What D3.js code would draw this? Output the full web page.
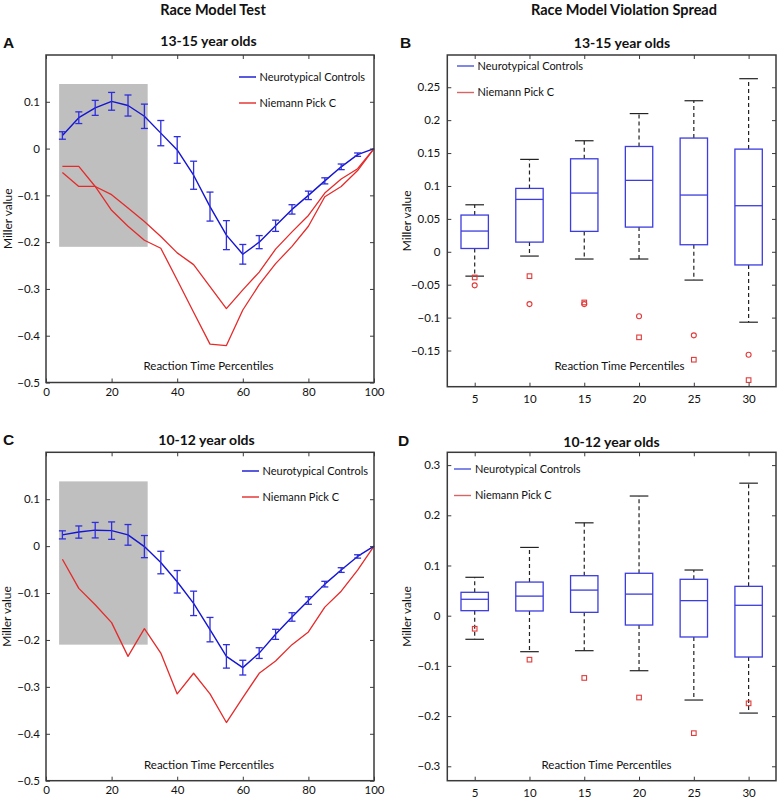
<!DOCTYPE html>
<html>
<head>
<meta charset="utf-8">
<script src="https://cdn.jsdelivr.net/npm/d3@7"></script>
<style>
  html, body { margin: 0; padding: 0; background: #fff; }
  svg { display: block; }
  text { font-family: Lato, "Noto Sans", sans-serif; fill: #111; }
</style>
</head>
<body>
<svg id="chart" width="778" height="798"></svg>
<script>
// ---------- DATA ----------
const percentiles = [5,10,15,20,25,30,35,40,45,50,55,60,65,70,75,80,85,90,95,100];

// Panel A (13-15 year olds)
const ntA_mean = [0.028,0.066,0.087,0.101,0.092,0.069,0.033,-0.003,-0.057,-0.124,-0.185,-0.226,-0.200,-0.165,-0.130,-0.100,-0.069,-0.039,-0.013,0];
const ntA_err  = [0.008,0.0125,0.016,0.019,0.0225,0.026,0.027,0.0285,0.030,0.031,0.031,0.021,0.014,0.012,0.010,0.009,0.0065,0.006,0.0036,0];
const npcA_1   = [-0.038,-0.038,-0.081,-0.132,-0.166,-0.196,-0.213,-0.281,-0.350,-0.418,-0.421,-0.345,-0.291,-0.246,-0.209,-0.166,-0.103,-0.081,-0.047,0];
const npcA_2   = [-0.051,-0.081,-0.081,-0.0985,-0.127,-0.156,-0.188,-0.223,-0.248,-0.295,-0.342,-0.302,-0.264,-0.215,-0.178,-0.143,-0.095,-0.065,-0.043,0];

// Panel C (10-12 year olds)
const ntC_mean = [0.024,0.030,0.034,0.033,0.024,-0.001,-0.035,-0.076,-0.122,-0.178,-0.235,-0.259,-0.228,-0.188,-0.151,-0.116,-0.081,-0.051,-0.022,0];
const ntC_err  = [0.0086,0.013,0.0165,0.0186,0.022,0.0236,0.024,0.024,0.026,0.026,0.025,0.0157,0.0114,0.0107,0.009,0.008,0.006,0.005,0.0036,0];
const npcC     = [-0.028,-0.090,-0.125,-0.163,-0.235,-0.176,-0.228,-0.315,-0.271,-0.315,-0.376,-0.323,-0.271,-0.245,-0.210,-0.183,-0.130,-0.096,-0.051,0];

// shaded window (percentile range, Miller value range)
const shadeX = [4, 31];
const shadeY = [-0.21, 0.138];

// Box plots
const boxCats = [5,10,15,20,25,30];
// Panel B
const bLow  = [-0.037,-0.0065,-0.011,-0.011,-0.043,-0.107];
const bQ1   = [0.005,0.0147,0.031,0.0375,0.0107,-0.020];
const bMed  = [0.0315,0.0796,0.0892,0.1085,0.0862,0.070];
const bQ3   = [0.0558,0.0963,0.1413,0.160,0.1728,0.156];
const bHigh = [0.0714,0.1404,0.1687,0.210,0.2295,0.263];
const bOutSq = [-0.039,-0.037,-0.077,-0.130,-0.164,-0.195];
const bOutCi = [-0.051,-0.0795,-0.0795,-0.098,-0.127,-0.1565];
// Panel D
const dLow  = [-0.047,-0.0717,-0.0697,-0.1096,-0.168,-0.194];
const dQ1   = [0.010,0.0094,0.0067,-0.0186,-0.0424,-0.0823];
const dMed  = [0.0327,0.039,0.051,0.043,0.030,0.0207];
const dQ3   = [0.0466,0.067,0.0797,0.0845,0.0725,0.0585];
const dHigh = [0.0765,0.136,0.185,0.2384,0.091,0.264];
const dOutSq = [-0.026,-0.0876,-0.124,-0.163,-0.234,-0.1746];

// Ticks
const lineXTicks = [0,20,40,60,80,100];
const lineYTicks = [-0.5,-0.4,-0.3,-0.2,-0.1,0,0.1];
const boxBYTicks = [-0.15,-0.1,-0.05,0,0.05,0.1,0.15,0.2,0.25];
const boxDYTicks = [-0.3,-0.2,-0.1,0,0.1,0.2,0.3];

const seriesNames = ["Neurotypical Controls", "Niemann Pick C"];

// ---------- STYLE ----------
const BLUE = "#1414d2", BLUE_EB = "#2e2edc", RED = "#e52a2a";
const BOXBLUE = "#3c3ce0", OUTRED = "#e23a3a";
const AXIS = "#3a3a3a";
const fmt = d3.format("~g");

const svg = d3.select("#chart");

// headings
svg.append("text").attr("x", 213).attr("y", 15).attr("text-anchor","middle")
  .attr("font-weight","bold").attr("font-size", 14.5).text("Race Model Test");
svg.append("text").attr("x", 624).attr("y", 15).attr("text-anchor","middle")
  .attr("font-weight","bold").attr("font-size", 14.5).text("Race Model Violation Spread");

function letter(t, x, y) {
  svg.append("text").attr("x", x).attr("y", y).attr("font-weight","bold")
    .attr("font-size", 15.5).style("font-family","'Liberation Sans', Arial, sans-serif").text(t);
}

function frameAndAxes(g, x, y, L, R, T, B, xTicks, yTicks, xPad, yPad) {
  g.append("rect").attr("x", L).attr("y", T).attr("width", R-L).attr("height", B-T)
    .attr("fill","none").attr("stroke", AXIS).attr("stroke-width", 1.5);
  const ax = g.append("g").attr("transform", `translate(0,${B})`)
    .call(d3.axisBottom(x).tickValues(xTicks).tickSize(-4).tickPadding(xPad).tickFormat(fmt));
  const axT = g.append("g").attr("transform", `translate(0,${T})`)
    .call(d3.axisTop(x).tickValues(xTicks).tickSize(-4).tickFormat(""));
  const ay = g.append("g").attr("transform", `translate(${L},0)`)
    .call(d3.axisLeft(y).tickValues(yTicks).tickSize(-4).tickPadding(yPad).tickFormat(fmt));
  const ayR = g.append("g").attr("transform", `translate(${R},0)`)
    .call(d3.axisRight(y).tickValues(yTicks).tickSize(-4).tickFormat(""));
  [ax, axT, ay, ayR].forEach(a => {
    a.select(".domain").remove();
    a.selectAll(".tick line").attr("stroke", AXIS).attr("stroke-width", 1);
    a.selectAll(".tick text").attr("font-size", 11.5).style("font-family","Lato, 'Noto Sans', sans-serif").attr("fill","#111");
  });
}

function legend(g, x1, x2, tx, y1, y2, c1, c2) {
  g.append("line").attr("x1",x1).attr("x2",x2).attr("y1",y1).attr("y2",y1).attr("stroke",c1).attr("stroke-width",1.4);
  g.append("text").attr("x",tx).attr("y",y1).attr("dy","0.35em").attr("font-size",11).text(seriesNames[0]);
  g.append("line").attr("x1",x1).attr("x2",x2).attr("y1",y2).attr("y2",y2).attr("stroke",c2).attr("stroke-width",1.4);
  g.append("text").attr("x",tx).attr("y",y2).attr("dy","0.35em").attr("font-size",11).text(seriesNames[1]);
}

function linePanel(o) {
  const g = svg.append("g");
  const x = d3.scaleLinear().domain([0,100]).range([o.L, o.R]);
  const y = d3.scaleLinear().domain([-0.5, 0.2]).range([o.B, o.T]);
  g.append("text").attr("x", o.subX).attr("y", o.subY).attr("text-anchor","middle")
    .attr("font-weight","bold").attr("font-size", 14).text(o.sub);
  g.append("rect").attr("x", x(shadeX[0])).attr("y", y(shadeY[1]))
    .attr("width", x(shadeX[1]) - x(shadeX[0])).attr("height", y(shadeY[0]) - y(shadeY[1]))
    .attr("fill", "#bfbfbf");
  const line = d3.line().x((d,i) => x(percentiles[i])).y(d => y(d));
  o.reds.forEach(r => g.append("path").attr("d", line(r)).attr("fill","none")
    .attr("stroke", RED).attr("stroke-width", 1.3).attr("stroke-linejoin","round"));
  g.append("path").attr("d", line(o.mean)).attr("fill","none")
    .attr("stroke", BLUE).attr("stroke-width", 1.4).attr("stroke-linejoin","round");
  const eb = g.append("g").attr("stroke", BLUE_EB).attr("stroke-width", 1.3);
  o.mean.forEach((m, i) => {
    const e = o.err[i];
    if (e <= 0) return;
    const cx = x(percentiles[i]);
    eb.append("line").attr("x1",cx).attr("x2",cx).attr("y1",y(m+e)).attr("y2",y(m-e));
    eb.append("line").attr("x1",cx-3.5).attr("x2",cx+3.5).attr("y1",y(m+e)).attr("y2",y(m+e));
    eb.append("line").attr("x1",cx-3.5).attr("x2",cx+3.5).attr("y1",y(m-e)).attr("y2",y(m-e));
  });
  frameAndAxes(g, x, y, o.L, o.R, o.T, o.B, lineXTicks, lineYTicks, 5, 6);
  g.append("text").attr("x", o.xlabX).attr("y", o.xlabY).attr("dy","0.35em").attr("text-anchor","middle")
    .attr("font-size", 11.5).text("Reaction Time Percentiles");
  g.append("text").attr("transform", `translate(${o.ylabX},${(o.T+o.B)/2}) rotate(-90)`)
    .attr("text-anchor","middle").attr("dy","0.35em").attr("font-size", 12).text("Miller value");
  legend(g, o.lg[0], o.lg[1], o.lg[2], o.lg[3], o.lg[4], BLUE, RED);
}

function boxPanel(o) {
  const g = svg.append("g");
  const x = d3.scalePoint().domain(boxCats).range([o.L, o.R]).padding(0.5);
  const y = d3.scaleLinear().domain(o.yDom).range([o.B, o.T]);
  g.append("text").attr("x", o.subX).attr("y", o.subY).attr("text-anchor","middle")
    .attr("font-weight","bold").attr("font-size", 14).text(o.sub);
  const bw = x.step() * 0.5, cw = x.step() * 0.34;
  boxCats.forEach((c, i) => {
    const cx = x(c);
    g.append("line").attr("x1",cx).attr("x2",cx).attr("y1",y(o.q3[i])).attr("y2",y(o.hi[i]))
      .attr("stroke","#222").attr("stroke-width",1.2).attr("stroke-dasharray","4,3");
    g.append("line").attr("x1",cx).attr("x2",cx).attr("y1",y(o.q1[i])).attr("y2",y(o.lo[i]))
      .attr("stroke","#222").attr("stroke-width",1.2).attr("stroke-dasharray","4,3");
    g.append("line").attr("x1",cx-cw/2).attr("x2",cx+cw/2).attr("y1",y(o.hi[i])).attr("y2",y(o.hi[i]))
      .attr("stroke","#222").attr("stroke-width",1.2);
    g.append("line").attr("x1",cx-cw/2).attr("x2",cx+cw/2).attr("y1",y(o.lo[i])).attr("y2",y(o.lo[i]))
      .attr("stroke","#222").attr("stroke-width",1.2);
    g.append("rect").attr("x", cx-bw/2).attr("y", y(o.q3[i])).attr("width", bw)
      .attr("height", y(o.q1[i]) - y(o.q3[i])).attr("fill","none").attr("stroke", BOXBLUE).attr("stroke-width",1.3);
    g.append("line").attr("x1",cx-bw/2).attr("x2",cx+bw/2).attr("y1",y(o.med[i])).attr("y2",y(o.med[i]))
      .attr("stroke", BOXBLUE).attr("stroke-width",1.3);
    if (o.sq) g.append("rect").attr("x", cx-2.3).attr("y", y(o.sq[i])-2.3).attr("width",4.6).attr("height",4.6)
      .attr("fill","none").attr("stroke", OUTRED).attr("stroke-width",1.1);
    if (o.ci) g.append("circle").attr("cx", cx).attr("cy", y(o.ci[i])).attr("r", 2.5)
      .attr("fill","none").attr("stroke", OUTRED).attr("stroke-width",1.1);
  });
  frameAndAxes(g, x, y, o.L, o.R, o.T, o.B, boxCats, o.yTicks, o.xPad, 7);
  g.append("text").attr("x", o.xlabX).attr("y", o.xlabY).attr("dy","0.35em").attr("text-anchor","middle")
    .attr("font-size", 11.5).text("Reaction Time Percentiles");
  g.append("text").attr("transform", `translate(${o.ylabX},${(o.T+o.B)/2}) rotate(-90)`)
    .attr("text-anchor","middle").attr("dy","0.35em").attr("font-size", 12).text("Miller value");
  legend(g, o.lg[0], o.lg[1], o.lg[2], o.lg[3], o.lg[4], "#4a55dd", "#d86464");
}

letter("A", 3, 48);
letter("B", 400, 48);
letter("C", 3, 445);
letter("D", 398, 446);

linePanel({ L:46, R:374, T:55, B:382.5, sub:"13-15 year olds", subX:208.5, subY:46,
  mean: ntA_mean, err: ntA_err, reds: [npcA_1, npcA_2],
  xlabX: 208.5, xlabY: 366, ylabX: 7.5, lg: [239, 256, 259.5, 77, 103] });

linePanel({ L:46, R:374, T:452.3, B:780.7, sub:"10-12 year olds", subX:206.5, subY:445,
  mean: ntC_mean, err: ntC_err, reds: [npcC],
  xlabX: 209, xlabY: 765, ylabX: 6.5, lg: [242, 259, 262.5, 471, 497] });

boxPanel({ L:447.3, R:776, T:55, B:386.7, yDom:[-0.205, 0.299], yTicks: boxBYTicks,
  sub:"13-15 year olds", subX:622, subY:47.5, xPad: 8,
  lo:bLow, q1:bQ1, med:bMed, q3:bQ3, hi:bHigh, sq:bOutSq, ci:bOutCi,
  xlabX: 619.5, xlabY: 365.5, ylabX: 406.5, lg: [457, 474, 477.5, 66, 92.5] });

boxPanel({ L:447.3, R:776, T:452.3, B:780.7, yDom:[-0.3287, 0.3255], yTicks: boxDYTicks,
  sub:"10-12 year olds", subX:611.5, subY:446.5, xPad: 8.5,
  lo:dLow, q1:dQ1, med:dMed, q3:dQ3, hi:dHigh, sq:dOutSq, ci:null,
  xlabX: 606.5, xlabY: 765, ylabX: 406.5, lg: [454, 471, 475, 469, 495.5] });
</script>
</body>
</html>
